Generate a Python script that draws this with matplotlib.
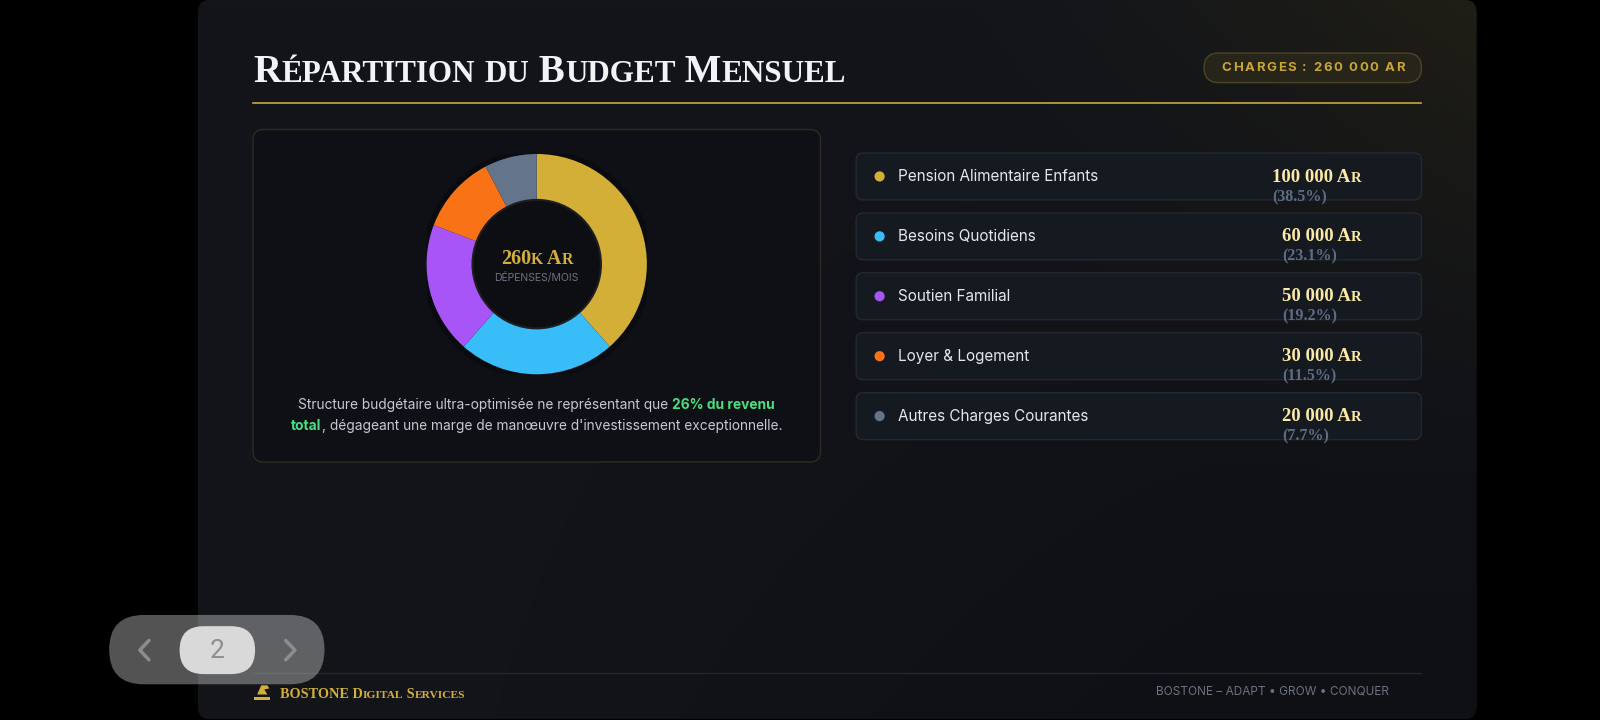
import matplotlib
matplotlib.use("Agg")
import matplotlib.pyplot as plt
import numpy as np
from matplotlib.patches import FancyBboxPatch, Circle, Polygon

# ---- data ----
categories = ["Pension Alimentaire Enfants", "Besoins Quotidiens", "Soutien Familial",
              "Loyer & Logement", "Autres Charges Courantes"]
amounts = [100000, 60000, 50000, 30000, 20000]
shares = [38.5, 23.1, 19.2, 11.5, 7.7]
colors = ["#d4af37", "#38bdf8", "#a855f7", "#f97316", "#64748b"]
total_label = "260k Ar"
badge_label = "CHARGES : 260 000 AR"

SANS = ["Inter", "DejaVu Sans"]
SERIF = ["Liberation Serif", "DejaVu Serif"]

# layout grid in reference pixels
W, H = 1568, 706
SX = 1600 / W

fig = plt.figure(figsize=(16, 7.2), dpi=100, facecolor="black")
bg = fig.add_axes([0, 0, 1, 1])
bg.set_xlim(0, W); bg.set_ylim(H, 0); bg.axis("off")
bg.set_zorder(0)

renderer = fig.canvas.get_renderer()


def rbox(a, x, y, w, h, r, **kw):
    p = FancyBboxPatch((x, y), w, h, boxstyle=f"round,pad=0,rounding_size={r}", **kw)
    a.add_patch(p)
    return p


# slide background with a warm glow top right
slide = rbox(bg, 194, 0, 1253, 705, 12, fc="#121419", ec="none")
xs = np.linspace(194, 1447, 300)
ys = np.linspace(0, 706, 150)
X, Y = np.meshgrid(xs, ys)
base = np.array([19, 21, 26]) / 255
warm = np.array([32, 30, 21]) / 255
dark = np.array([13, 14, 18]) / 255
ww = np.clip((X - 950) / 500, 0, 1) ** 1.3 * np.clip(1 - Y / 480, 0, 1)
wd = np.clip(Y / 706, 0, 1) * 0.7 * np.clip((X - 300) / 900, 0.2, 1)
img = base * (1 - ww[..., None]) + warm * ww[..., None]
img = img * (1 - wd[..., None]) + dark * wd[..., None]
im = bg.imshow(img, extent=[194, 1447, 706, 0], aspect="auto", zorder=1)
im.set_clip_path(slide)

# header rule and footer rule
bg.plot([248, 1393], [101, 101], color="#c9a93a", lw=1.2, zorder=2)
bg.plot([248, 1393], [660, 660], color="#23262d", lw=1, zorder=2)

# left card
rbox(bg, 248, 127, 556, 326, 10, fc="#0e1015", ec="#2f2b20", lw=1, zorder=2)

# right rows
row_top0, row_h, row_pitch = 150, 46, 58.75
for i in range(len(categories)):
    rbox(bg, 839, row_top0 + i * row_pitch, 554, row_h, 7,
         fc="#151920", ec="#242831", lw=1, zorder=2)

# badge
rbox(bg, 1180, 52, 213, 29, 14.5, fc="#27241a", ec="#4d4426", lw=1, zorder=2)

# ---- donut ----
cx, cy, R = 526, 259, 108
pax = fig.add_axes([(cx - R) / W, 1 - (cy + R) / H, 2 * R / W, 2 * R / H])
pax.set_zorder(1)
pax.patch.set_alpha(0)
pax.add_patch(Circle((0, 0), 1.05, fc="black", alpha=0.25, ec="none", zorder=0))
pax.pie(amounts, colors=colors, startangle=90, counterclock=False, radius=1,
        wedgeprops=dict(width=0.417, edgecolor="none"))
pax.add_patch(Circle((0, 0), 0.583, fc="#0c0e12", ec="#1c1e22", lw=1.5, zorder=5))
pax.set_xlim(-1, 1); pax.set_ylim(-1, 1)
pax.set_aspect("equal")
pax.axis("off")

# ---- foreground layer ----
fg = fig.add_axes([0, 0, 1, 1])
fg.set_xlim(0, W); fg.set_ylim(H, 0); fg.axis("off")
fg.patch.set_alpha(0)
fg.set_zorder(2)


def tw(s, **kw):
    t = fg.text(0, 0, "|" + s + "|", **kw)
    t2 = fg.text(0, 0, "||", **kw)
    w = t.get_window_extent(renderer).width - t2.get_window_extent(renderer).width
    t.remove(); t2.remove()
    return w / SX


def runs_text(x, y, runs, ha="left", va="baseline"):
    widths = [tw(s, **kw) for s, kw in runs]
    total = sum(widths)
    if ha == "center":
        x -= total / 2
    elif ha == "right":
        x -= total
    for (s, kw), w in zip(runs, widths):
        fg.text(x, y, s, ha="left", va=va, **kw)
        x += w
    return total


def smallcaps(x, y, text, size, ratio=0.78, ha="left", **kw):
    runs = []
    for ch in text:
        fs = size * ratio if ch.islower() else size
        if runs and runs[-1][1]["fontsize"] == fs:
            runs[-1] = (runs[-1][0] + ch.upper(), runs[-1][1])
        else:
            runs.append((ch.upper(), dict(fontsize=fs, **kw)))
    return runs_text(x, y, runs, ha=ha)


def tracked(x, y, text, spacing, **kw):
    widths = [tw(c, **kw) for c in text]
    total = sum(widths) + spacing * (len(text) - 1)
    x -= total / 2
    for c, w in zip(text, widths):
        fg.text(x, y, c, ha="left", va="center", **kw)
        x += w + spacing


# title
smallcaps(248, 80, "Répartition du Budget Mensuel", 28, ratio=0.8,
          family=SERIF, weight="bold", color="#f2f3f5")

# badge text
tracked(1287, 66.5, badge_label, 1.6, family=SANS, weight="bold",
        fontsize=9.5, color="#c9a634")

# donut centre
smallcaps(cx, 259, total_label, 14.5, ratio=0.78, ha="center",
          family=SERIF, weight="bold", color="#d4af37")
fg.text(cx, 272, "DÉPENSES/MOIS", ha="center", va="center", fontsize=7.5,
        family=SANS, color="#6b7280")

# caption under donut
norm = dict(family=SANS, fontsize=9.9, color="#c5c9d0")
hi = dict(family=SANS, fontsize=9.9, color="#4ade80", weight="bold")
runs_text(cx, 401, [("Structure budgétaire ultra-optimisée ne représentant que ", norm),
                    ("26% du revenu", hi)], ha="center")
runs_text(cx, 422, [("total", hi),
                    (", dégageant une marge de manœuvre d'investissement exceptionnelle.", norm)],
          ha="center")

# rows
for i, (cat, amt, sh, col) in enumerate(zip(categories, amounts, shares, colors)):
    yc = row_top0 + i * row_pitch + row_h / 2
    fg.add_patch(Circle((862, yc), 5, fc=col, ec="none"))
    fg.text(880, yc, cat, ha="left", va="center", fontsize=11, family=SANS, color="#e5e7eb")
    val = f"{amt:,}".replace(",", " ") + " Ar"
    wv = smallcaps(1334, yc + 5, val, 13.5, ratio=0.78, ha="right",
                   family=SERIF, weight="bold", color="#fbe9a5")
    fg.text(1334 - wv, yc + 24, f"({sh}%)", ha="left", va="baseline", fontsize=11.5,
            family=SERIF, weight="bold", color="#5f6d84")

# footer
fg.add_patch(Polygon([[249, 683], [265, 683], [265, 686], [249, 686]], fc="#d4af37", ec="none"))
fg.add_patch(Polygon([[252, 681], [256, 672], [262, 672], [264, 675], [259, 676], [262, 681]],
                     fc="#d4af37", ec="none"))
smallcaps(274, 684, "BOSTONE Digital Services", 10.3, ratio=0.8,
          family=SERIF, weight="bold", color="#d4af37")
fg.text(1133, 678, "BOSTONE – ADAPT • GROW • CONQUER", ha="left", va="center",
        fontsize=8.5, family=SANS, color="#6b7280")

# page navigation overlay
rbox(fg, 107, 603, 211, 68, 34, fc="white", alpha=0.33, ec="none")
rbox(fg, 176, 614, 74, 47, 23.5, fc="#d9d9d9", ec="none")
fg.text(213, 638, "2", ha="center", va="center", fontsize=19, family=["Roboto", "DejaVu Sans"],
        color="#8e8e8e")
fg.plot([146, 137, 146], [628, 637.5, 647], color="#8d8d8d", lw=2.5, solid_capstyle="round")
fg.plot([280, 289, 280], [628, 637.5, 647], color="#8d8d8d", lw=2.5, solid_capstyle="round")

fig.savefig("out.png", dpi=100, facecolor="black")
